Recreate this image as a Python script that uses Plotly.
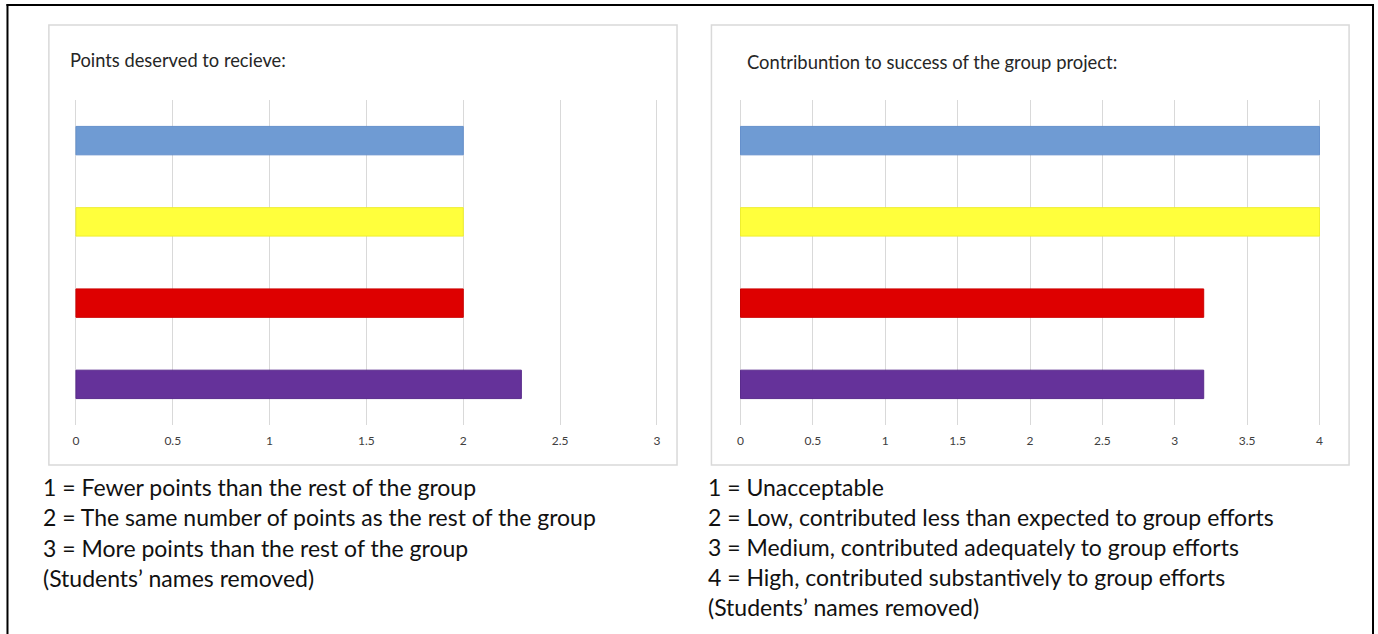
import plotly.graph_objects as go

W, H = 1378, 634

# Data
students = ["Student A", "Student B", "Student C", "Student D"]  # names removed
bar_colors = ["#6f9bd3", "#ffff3c", "#de0000", "#65329a"]
border_colors = ["#6590cc", "#eeee30", "#cc0000", "#5a2b8c"]
points_values = [2, 2, 2, 2.3]
contrib_values = [4, 4, 3.2, 3.2]
points_ticks = [0, 0.5, 1, 1.5, 2, 2.5, 3]
contrib_ticks = [0, 0.5, 1, 1.5, 2, 2.5, 3, 3.5, 4]
title_left = "Points deserved to recieve:"
title_right = "Contribuntion to success of the group project:"
notes_left = [
    "1 = Fewer points than the rest of the group",
    "2 = The same number of points as the rest of the group",
    "3 = More points than the rest of the group",
    "(Students\u2019 names removed)",
]
notes_right = [
    "1 = Unacceptable",
    "2 = Low, contributed less than expected to group efforts",
    "3 = Medium, contributed adequately to group efforts",
    "4 = High, contributed substantively to group efforts",
    "(Students\u2019 names removed)",
]

def px(x):
    return x / W

def py(y):
    return 1 - y / H

fig = go.Figure()

fig.add_trace(go.Bar(
    x=points_values, y=students, orientation="h",
    marker=dict(color=bar_colors, line=dict(color=border_colors, width=1)),
    width=0.35, xaxis="x", yaxis="y", showlegend=False, hoverinfo="x",
))
fig.add_trace(go.Bar(
    x=contrib_values, y=students, orientation="h",
    marker=dict(color=bar_colors, line=dict(color=border_colors, width=1)),
    width=0.35, xaxis="x2", yaxis="y2", showlegend=False, hoverinfo="x",
))

FONT = "Lato, Calibri, Carlito, sans-serif"
tickfont = dict(family=FONT, size=12, color="#404040")

axis_common = dict(
    showgrid=True, gridcolor="#d9d9d9", gridwidth=1, zeroline=False,
    showline=False, ticks="", tickfont=tickfont, fixedrange=True,
)

# small padding so the edge gridlines (0 and max) are drawn
padL = 0.006
padR = 0.008
fig.update_layout(
    width=W, height=H,
    margin=dict(l=0, r=0, t=0, b=0),
    paper_bgcolor="white", plot_bgcolor="white",
    font=dict(family=FONT),
    xaxis=dict(domain=[px(73), px(658)], range=[-padL, 3 + padL], tickvals=points_ticks,
               ticktext=[f"{v:g}" for v in points_ticks], anchor="y",
               ticklabelstandoff=7, **axis_common),
    yaxis=dict(domain=[py(425), py(100)], range=[3.5, -0.5],
               showticklabels=False, showgrid=False, zeroline=False,
               showline=False, anchor="x", fixedrange=True),
    xaxis2=dict(domain=[px(739.5), px(1322.5)], range=[-padR, 4 + padR], tickvals=contrib_ticks,
                ticktext=[f"{v:g}" for v in contrib_ticks], anchor="y2",
                ticklabelstandoff=7, **axis_common),
    yaxis2=dict(domain=[py(425), py(100)], range=[3.5, -0.5],
                showticklabels=False, showgrid=False, zeroline=False,
                showline=False, anchor="x2", fixedrange=True),
)

shapes = []
# outer black frame (left, top, right)
shapes.append(dict(type="line", xref="paper", yref="paper", x0=px(5.5), x1=px(5.5),
                   y0=py(4), y1=0, line=dict(color="black", width=2)))
shapes.append(dict(type="line", xref="paper", yref="paper", x0=px(4.5), x1=px(1376),
                   y0=py(5), y1=py(5), line=dict(color="black", width=2)))
shapes.append(dict(type="line", xref="paper", yref="paper", x0=px(1375), x1=px(1375),
                   y0=py(4), y1=0, line=dict(color="black", width=2)))
# chart panels
for (x0, x1) in [(47, 677), (711.5, 1351)]:
    shapes.append(dict(type="rect", xref="paper", yref="paper",
                       x0=px(x0), x1=px(x1), y0=py(465), y1=py(25),
                       line=dict(color="#d9d9d9", width=1.5), fillcolor="rgba(0,0,0,0)",
                       layer="below"))
fig.update_layout(shapes=shapes)

annotations = []
annotations.append(dict(text=title_left, x=px(66), y=py(60), xref="paper", yref="paper",
                        xanchor="left", yanchor="middle", showarrow=False,
                        font=dict(family=FONT, size=18.3, color="#262626")))
annotations.append(dict(text=title_right, x=px(745), y=py(62), xref="paper", yref="paper",
                        xanchor="left", yanchor="middle", showarrow=False,
                        font=dict(family=FONT, size=18.4, color="#262626")))
for i, t in enumerate(notes_left):
    annotations.append(dict(text=t, x=px(39), y=py(487 + 30.3 * i), xref="paper", yref="paper",
                            xanchor="left", yanchor="middle", showarrow=False,
                            font=dict(family=FONT, size=23, color="#111111")))
for i, t in enumerate(notes_right):
    annotations.append(dict(text=t, x=px(706.5), y=py(487 + 30 * i), xref="paper", yref="paper",
                            xanchor="left", yanchor="middle", showarrow=False,
                            font=dict(family=FONT, size=23, color="#111111")))
fig.update_layout(annotations=annotations)

fig.write_html("out.html", config={"displayModeBar": False})
